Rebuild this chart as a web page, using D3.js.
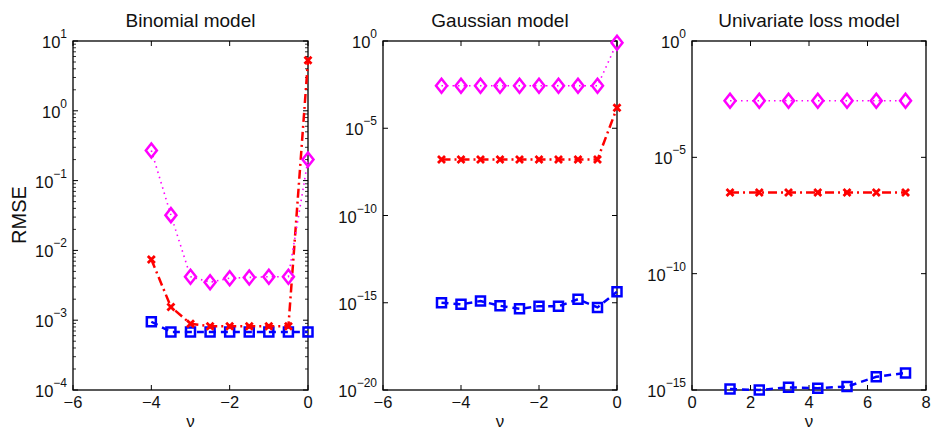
<!DOCTYPE html>
<html>
<head>
<meta charset="utf-8">
<script src="https://cdn.jsdelivr.net/npm/d3@7"></script>
<style>
  body { margin: 0; background: #fff; }
  svg text { font-family: "Liberation Sans", Arial, sans-serif; fill: #111; }
</style>
</head>
<body>
<div id="chart"></div>
<script>
// values

// Binomial model
var binomX = [-4, -3.5, -3, -2.5, -2, -1.5, -1, -0.5, 0];
var binomBlue = [9.5e-4, 6.8e-4, 6.8e-4, 6.8e-4, 6.8e-4, 6.8e-4, 6.8e-4, 6.8e-4, 6.8e-4];
var binomRed = [7.4e-3, 1.55e-3, 8.9e-4, 8.2e-4, 8.2e-4, 8.2e-4, 8.2e-4, 8.2e-4, 5.3];
var binomMagenta = [0.27, 0.032, 4.2e-3, 3.5e-3, 4.0e-3, 4.1e-3, 4.2e-3, 4.2e-3, 0.2];

// Gaussian model
var gaussX = [-4.5, -4, -3.5, -3, -2.5, -2, -1.5, -1, -0.5, 0];
var gaussBlue = [1e-15, 8.1e-16, 1.25e-15, 6.7e-16, 4.5e-16, 6.4e-16, 6.2e-16, 1.6e-15, 5.4e-16, 4.3e-15];
var gaussRed = [1.6e-7, 1.6e-7, 1.6e-7, 1.6e-7, 1.6e-7, 1.6e-7, 1.6e-7, 1.6e-7, 1.6e-7, 1.5e-4];
var gaussMagenta = [2.7e-3, 2.7e-3, 2.7e-3, 2.7e-3, 2.7e-3, 2.7e-3, 2.7e-3, 2.7e-3, 2.7e-3, 0.8];

// Univariate loss model
var uniX = [1.3, 2.3, 3.3, 4.3, 5.3, 6.3, 7.3];
var uniBlue = [1.1e-15, 1.0e-15, 1.3e-15, 1.2e-15, 1.4e-15, 3.7e-15, 5.4e-15];
var uniRed = [3.1e-7, 3.1e-7, 3.1e-7, 3.1e-7, 3.1e-7, 3.1e-7, 3.1e-7];
var uniMagenta = [2.7e-3, 2.7e-3, 2.7e-3, 2.7e-3, 2.7e-3, 2.7e-3, 2.7e-3];

// axis settings
var titles = ["Binomial model", "Gaussian model", "Univariate loss model"];
var xDomains = [[-6, 0], [-6, 0], [0, 8]];
var xTicks = [[-6, -4, -2, 0], [-6, -4, -2, 0], [0, 2, 4, 6, 8]];
var yExpDomains = [[-4, 1], [-20, 0], [-15, 0]];
var yExpTicks = [[-4, -3, -2, -1, 0, 1], [-20, -15, -10, -5, 0], [-15, -10, -5, 0]];

var panels = [
  { x: binomX, blue: binomBlue, red: binomRed, magenta: binomMagenta, left: 73, right: 308, minor: true },
  { x: gaussX, blue: gaussBlue, red: gaussRed, magenta: gaussMagenta, left: 383, right: 617, minor: false },
  { x: uniX, blue: uniBlue, red: uniRed, magenta: uniMagenta, left: 692, right: 926, minor: false }
];

var svgWidth = 931;
var svgHeight = 432;
var plotTop = 41, plotBottom = 390;

var svg = d3.select("#chart")
  .append("svg")
  .attr("width", svgWidth)
  .attr("height", svgHeight);

panels.forEach(function(p, i) {
  var xScale = d3.scaleLinear().domain(xDomains[i]).range([p.left, p.right]);
  var yScale = d3.scaleLog()
    .domain([Math.pow(10, yExpDomains[i][0]), Math.pow(10, yExpDomains[i][1])])
    .range([plotBottom, plotTop]);

  var g = svg.append("g");

  // box
  g.append("rect")
    .attr("x", p.left).attr("y", plotTop)
    .attr("width", p.right - p.left).attr("height", plotBottom - plotTop)
    .attr("fill", "none").attr("stroke", "#000").attr("stroke-width", 1.3);

  // x ticks, inward top and bottom
  xTicks[i].forEach(function(t) {
    var x = xScale(t);
    g.append("line").attr("x1", x).attr("x2", x).attr("y1", plotBottom).attr("y2", plotBottom - 5)
      .attr("stroke", "#000");
    g.append("line").attr("x1", x).attr("x2", x).attr("y1", plotTop).attr("y2", plotTop + 5)
      .attr("stroke", "#000");
    g.append("text")
      .attr("x", x).attr("y", 408)
      .attr("text-anchor", "middle")
      .style("font-size", "16.5px")
      .text(t < 0 ? "\u2212" + Math.abs(t) : t);
  });

  // minor log ticks
  if (p.minor) {
    for (var e = yExpDomains[i][0]; e < yExpDomains[i][1]; e++) {
      for (var m = 2; m <= 9; m++) {
        var y = yScale(m * Math.pow(10, e));
        g.append("line").attr("x1", p.left).attr("x2", p.left + 3).attr("y1", y).attr("y2", y)
          .attr("stroke", "#000").attr("stroke-width", 0.8);
        g.append("line").attr("x1", p.right).attr("x2", p.right - 3).attr("y1", y).attr("y2", y)
          .attr("stroke", "#000").attr("stroke-width", 0.8);
      }
    }
  }

  // y ticks with 10^n labels
  yExpTicks[i].forEach(function(e) {
    var y = yScale(Math.pow(10, e));
    g.append("line").attr("x1", p.left).attr("x2", p.left + 5).attr("y1", y).attr("y2", y)
      .attr("stroke", "#000");
    g.append("line").attr("x1", p.right).attr("x2", p.right - 5).attr("y1", y).attr("y2", y)
      .attr("stroke", "#000");
    var lab = g.append("text")
      .attr("x", p.left - 6).attr("y", y + 7)
      .attr("text-anchor", "end")
      .style("font-size", "16.5px");
    lab.append("tspan").text("10");
    lab.append("tspan")
      .attr("dy", -10)
      .style("font-size", "12px")
      .text(e < 0 ? "\u2212" + Math.abs(e) : e);
  });

  // title and x label
  g.append("text")
    .attr("x", (p.left + p.right) / 2).attr("y", 27)
    .attr("text-anchor", "middle")
    .style("font-size", "19px")
    .text(titles[i]);

  g.append("text")
    .attr("x", (p.left + p.right) / 2).attr("y", 427)
    .attr("text-anchor", "middle")
    .style("font-size", "17px")
    .text("\u03bd");

  var series = [
    { vals: p.blue, color: "#0000ff", dash: "7,5", width: 2.5, marker: "square" },
    { vals: p.red, color: "#ff0000", dash: "9,4,2,4", width: 2.5, marker: "cross" },
    { vals: p.magenta, color: "#ff00ff", dash: "1.5,4", width: 1.6, marker: "diamond" }
  ];

  series.forEach(function(s) {
    var pts = p.x.map(function(x, k) { return [x, s.vals[k]]; });
    var line = d3.line()
      .x(function(d) { return xScale(d[0]); })
      .y(function(d) { return yScale(d[1]); });

    g.append("path")
      .datum(pts)
      .attr("d", line)
      .attr("fill", "none")
      .attr("stroke", s.color)
      .attr("stroke-width", s.width)
      .attr("stroke-dasharray", s.dash);

    var mk = g.selectAll(null).data(pts).enter().append("path")
      .attr("transform", function(d) { return "translate(" + xScale(d[0]) + "," + yScale(d[1]) + ")"; })
      .attr("fill", "none")
      .attr("stroke", s.color)
      .attr("stroke-width", 2.5);

    if (s.marker == "square") {
      mk.attr("d", "M-4.5,-4.5H4.5V4.5H-4.5Z");
    } else if (s.marker == "cross") {
      mk.attr("d", "M-3.5,-3.5L3.5,3.5M-3.5,3.5L3.5,-3.5").attr("stroke-width", 2.8);
    } else {
      mk.attr("d", "M0,-7L5.5,0L0,7L-5.5,0Z");
    }
  });
});

// y label
svg.append("text")
  .attr("transform", "translate(26, 215) rotate(-90)")
  .attr("text-anchor", "middle")
  .style("font-size", "20px")
  .text("RMSE");
</script>
</body>
</html>
